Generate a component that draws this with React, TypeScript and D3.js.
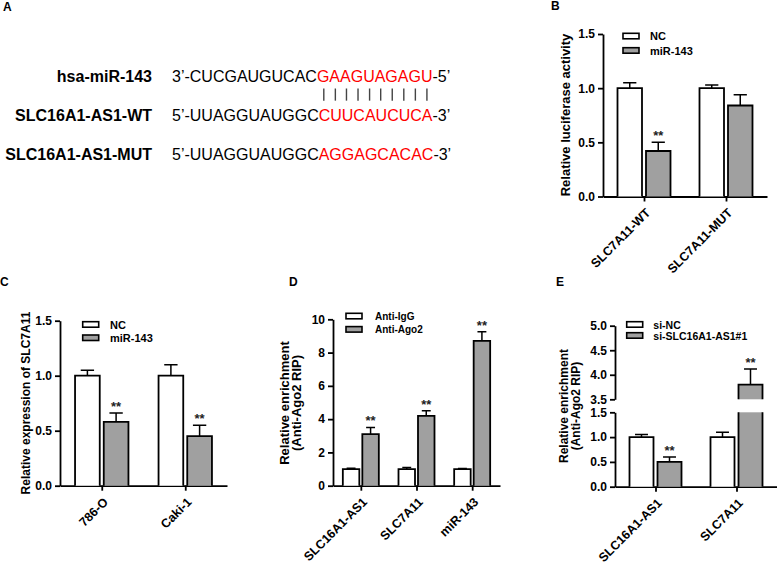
import React, { useRef, useEffect } from "react";
import * as d3 from "d3";

// ---- Panel A: sequence alignment ----
const seqNames = ["hsa-miR-143", "SLC16A1-AS1-WT", "SLC16A1-AS1-MUT"];
const seqPrefix = ["3’-CUCGAUGUCAC", "5’-UUAGGUAUGGC", "5’-UUAGGUAUGGC"];
const seqSite = ["GAAGUAGAGU", "CUUCAUCUCA", "AGGAGCACAC"];
const seqSuffix = ["-5’", "-3’", "-3’"];

// ---- Panel B: luciferase ----
const catsB = ["SLC7A11-WT", "SLC7A11-MUT"];
const legendB = ["NC", "miR-143"];
const ncB = [1.0, 1.0];
const ncErrB = [0.05, 0.03];
const mirB = [0.42, 0.84];
const mirErrB = [0.08, 0.1];
const sigB = ["**", ""];
const ticksB = [0, 0.5, 1.0, 1.5];

// ---- Panel C: SLC7A11 expression ----
const catsC = ["786-O", "Caki-1"];
const legendC = ["NC", "miR-143"];
const ncC = [1.0, 1.0];
const ncErrC = [0.05, 0.1];
const mirC = [0.58, 0.45];
const mirErrC = [0.08, 0.1];
const sigC = ["**", "**"];
const ticksC = [0, 0.5, 1.0, 1.5];

// ---- Panel D: RIP ----
const catsD = ["SLC16A1-AS1", "SLC7A11", "miR-143"];
const legendD = ["Anti-IgG", "Anti-Ago2"];
const iggD = [1.0, 1.0, 1.0];
const iggErrD = [0.05, 0.1, 0.03];
const ago2D = [3.1, 4.2, 8.7];
const ago2ErrD = [0.4, 0.3, 0.55];
const sigD = ["**", "**", "**"];
const ticksD = [0, 2, 4, 6, 8, 10];

// ---- Panel E: RIP after knockdown (broken axis) ----
const catsE = ["SLC16A1-AS1", "SLC7A11"];
const legendE = ["si-NC", "si-SLC16A1-AS1#1"];
const siNcE = [1.0, 1.0];
const siNcErrE = [0.05, 0.1];
const siSlcE = [0.5, 3.8];
const siSlcErrE = [0.1, 0.32];
const sigE = ["**", "**"];
const ticksElow = [0, 0.5, 1.0, 1.5];
const ticksEhigh = [3.5, 4.0, 4.5, 5.0];

const FONT = "'Liberation Sans', Arial, Helvetica, sans-serif";
const fills = ["#ffffff", "#a0a0a0"];

const panels = [
  {
    letter: "B", lx: 551, ly: 10,
    cats: catsB, names: legendB, sig: sigB,
    series: [{ v: ncB, e: ncErrB }, { v: mirB, e: mirErrB }],
    x0: 603, x1: 767, bw: 24.5, gap: 4, fmt: ".1f",
    segs: [{ domain: [0, 1.5], range: [196.5, 34], ticks: ticksB }],
    legend: { x: 623, y: 33.3, dy: 14.4, tx: 650, fs: 11 },
    ylab: { lines: ["Relative luciferase activity"], x: 570, y: 115, fs: 13 },
  },
  {
    letter: "C", lx: 0, ly: 286,
    cats: catsC, names: legendC, sig: sigC,
    series: [{ v: ncC, e: ncErrC }, { v: mirC, e: mirErrC }],
    x0: 60, x1: 227, bw: 24.7, gap: 4, fmt: ".1f",
    segs: [{ domain: [0, 1.5], range: [485.7, 320.7], ticks: ticksC }],
    legend: { x: 82.7, y: 321.7, dy: 13.3, tx: 110, fs: 11 },
    ylab: { lines: ["Relative expression of SLC7A11"], x: 30, y: 403, fs: 12 },
  },
  {
    letter: "D", lx: 289, ly: 286,
    cats: catsD, names: legendD, sig: sigD,
    series: [{ v: iggD, e: iggErrD }, { v: ago2D, e: ago2ErrD }],
    x0: 333, x1: 500, bw: 16.5, gap: 3, fmt: "d",
    segs: [{ domain: [0, 10], range: [485.7, 319.3], ticks: ticksD }],
    legend: { x: 346, y: 313.3, dy: 13.3, tx: 375, fs: 10 },
    ylab: { lines: ["Relative enrichment", "(Anti-Ago2 RIP)"], x: 289, y: 403, fs: 13 },
  },
  {
    letter: "E", lx: 556, ly: 286,
    cats: catsE, names: legendE, sig: sigE,
    series: [{ v: siNcE, e: siNcErrE }, { v: siSlcE, e: siSlcErrE }],
    x0: 615, x1: 777, bw: 24, gap: 4, fmt: ".1f",
    segs: [
      { domain: [0, 1.5], range: [486.7, 412.3], ticks: ticksElow },
      { domain: [3.5, 5], range: [399.3, 325.7], ticks: ticksEhigh },
    ],
    legend: { x: 626.7, y: 321.7, dy: 11, tx: 653.3, fs: 10.5 },
    ylab: { lines: ["Relative enrichment", "(Anti-Ago2 RIP)"], x: 568, y: 406, fs: 12 },
  },
];

function drawSequences(svg: any) {
  const g = svg.append("g");
  g.append("text").attr("x", 3).attr("y", 11)
    .attr("font-weight", "bold").attr("font-size", 12).text("A");

  const rowY = d3.scalePoint().domain(seqNames).range([81.5, 159.8]);
  const texts: any[] = [];
  seqNames.forEach((name, i) => {
    const y = rowY(name)!;
    g.append("text").attr("x", 152).attr("y", y)
      .attr("text-anchor", "end").attr("font-weight", "bold").attr("font-size", 16)
      .text(name);
    const t = g.append("text").attr("x", 172).attr("y", y).attr("font-size", 16);
    t.append("tspan").text(seqPrefix[i]);
    t.append("tspan").attr("fill", "#ff0000").text(seqSite[i]);
    t.append("tspan").text(seqSuffix[i]);
    texts.push(t.node());
  });

  // pairing lines between the miRNA seed and the WT site
  const y0 = rowY(seqNames[0])! + 7;
  const y1 = rowY(seqNames[1])! - 20;
  for (let k = 0; k < seqSite[0].length; k++) {
    const a = texts[0].getExtentOfChar(seqPrefix[0].length + k);
    const b = texts[1].getExtentOfChar(seqPrefix[1].length + k);
    const x = (a.x + a.width / 2 + b.x + b.width / 2) / 2;
    g.append("line").attr("x1", x).attr("x2", x).attr("y1", y0).attr("y2", y1)
      .attr("stroke", "#444").attr("stroke-width", 1.4);
  }
}

function drawPanel(svg: any, p: any) {
  const g = svg.append("g");
  g.append("text").attr("x", p.lx).attr("y", p.ly)
    .attr("font-weight", "bold").attr("font-size", 12).text(p.letter);

  const y = d3.scaleLinear()
    .domain(p.segs.flatMap((s: any) => s.domain))
    .range(p.segs.flatMap((s: any) => s.range));
  const yBase = y(0);

  const x = d3.scalePoint().domain(p.cats).range([p.x0, p.x1]).padding(0.5);
  const xs = d3.scaleBand().domain(["0", "1"])
    .range([-p.bw - p.gap / 2, p.bw + p.gap / 2])
    .paddingInner(p.gap / (p.bw + p.gap));

  // y axis segments
  p.segs.forEach((s: any) => {
    const ys = d3.scaleLinear().domain(s.domain).range(s.range);
    const ax = g.append("g").attr("transform", `translate(${p.x0},0)`)
      .call(d3.axisLeft(ys).tickValues(s.ticks).tickSize(5).tickSizeOuter(0)
        .tickPadding(3).tickFormat(d3.format(p.fmt)));
    ax.selectAll("path,line").attr("stroke", "#000").attr("stroke-width", 1.8);
    ax.selectAll("text").attr("font-size", 12).attr("font-weight", "bold")
      .attr("font-family", FONT).attr("fill", "#000");
  });

  // x axis
  const xa = g.append("g").attr("transform", `translate(0,${yBase})`)
    .call(d3.axisBottom(x).tickSize(5).tickSizeOuter(0));
  xa.selectAll("path,line").attr("stroke", "#000").attr("stroke-width", 1.8);
  xa.selectAll("text").remove();
  p.cats.forEach((c: string) => {
    g.append("text")
      .attr("transform", `translate(${x(c)! + 4},${yBase + 14}) rotate(-45)`)
      .attr("text-anchor", "end").attr("dy", "0.35em")
      .attr("font-size", 12.5).attr("font-weight", "bold").text(c);
  });

  // bars
  p.series.forEach((ser: any, j: number) => {
    p.cats.forEach((c: string, i: number) => {
      const v = ser.v[i];
      const xl = x(c)! + xs(String(j))!;
      const xr = xl + p.bw;
      p.segs.forEach((s: any) => {
        const lo = s.domain[0], hi = s.domain[1];
        if (v <= lo) return;
        const top = Math.min(v, hi);
        g.append("rect").attr("x", xl).attr("y", y(top))
          .attr("width", p.bw).attr("height", y(lo) - y(top))
          .attr("fill", fills[j]);
        const path = v <= hi
          ? `M${xl},${y(lo)}V${y(top)}H${xr}V${y(lo)}`
          : `M${xl},${y(lo)}V${y(top)}M${xr},${y(top)}V${y(lo)}`;
        g.append("path").attr("d", path).attr("fill", "none")
          .attr("stroke", "#000").attr("stroke-width", 1.8);
      });
      // error bar (upper only)
      const cx = xl + p.bw / 2;
      const et = y(v + ser.e[i]);
      g.append("path")
        .attr("d", `M${cx},${y(v)}V${et}M${cx - p.bw * 0.27},${et}H${cx + p.bw * 0.27}`)
        .attr("stroke", "#000").attr("stroke-width", 1.5).attr("fill", "none");
      if (j === 1 && p.sig[i]) {
        g.append("text").attr("x", cx).attr("y", et - 2)
          .attr("text-anchor", "middle").attr("font-size", 13).attr("font-weight", "bold")
          .attr("fill", "#222").text(p.sig[i]);
      }
    });
  });

  // legend
  p.names.forEach((n: string, j: number) => {
    const ly = p.legend.y + j * p.legend.dy;
    g.append("rect").attr("x", p.legend.x).attr("y", ly).attr("width", 16).attr("height", 5.5)
      .attr("fill", fills[j]).attr("stroke", "#000").attr("stroke-width", 1.6);
    g.append("text").attr("x", p.legend.tx).attr("y", ly + 6.8)
      .attr("font-size", p.legend.fs).attr("font-weight", "bold").text(n);
  });

  // y label
  const lab = g.append("text")
    .attr("transform", `translate(${p.ylab.x},${p.ylab.y}) rotate(-90)`)
    .attr("text-anchor", "middle").attr("font-size", p.ylab.fs).attr("font-weight", "bold");
  p.ylab.lines.forEach((t: string, k: number) => {
    lab.append("tspan").attr("x", 0).attr("y", k * 11.5).text(t);
  });
}

export default function App() {
  const svgRef = useRef<SVGSVGElement>(null);

  useEffect(() => {
    const svg = d3.select(svgRef.current);
    svg.selectAll("*").remove();
    drawSequences(svg);
    panels.forEach((p) => drawPanel(svg, p));
  }, []);

  return (
    <svg
      ref={svgRef}
      width={777}
      height={565}
      fontFamily={FONT}
      style={{ position: "absolute", left: 0, top: 0, background: "#fff" }}
    />
  );
}
